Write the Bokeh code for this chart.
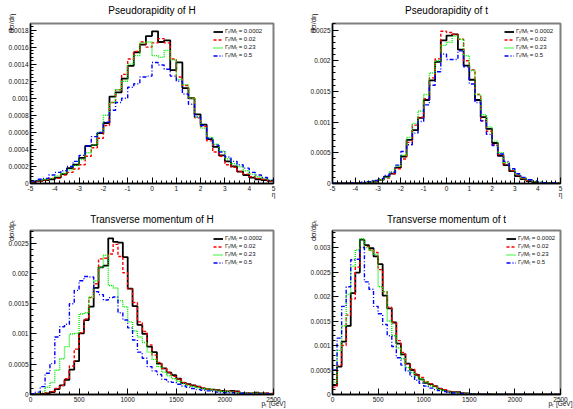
import numpy as np
from bokeh.plotting import figure
from bokeh.layouts import gridplot
from bokeh.models import (FixedTicker, CustomJSTickFormatter, Title, Legend,
                          LegendItem, Range1d)
from bokeh.embed import file_html
from bokeh.resources import INLINE

# ---------------- data (values in units of 1e-4) ----------------
SCALE = 1e-4
eta_edges = list(np.linspace(-5.0, 5.0, 41))      # 40 bins of 0.25
pt_edges = list(np.arange(0, 2501, 50))           # 50 bins of 50 GeV

width_labels = ["Γₜ/Mₜ = 0.0002", "Γₜ/Mₜ = 0.02", "Γₜ/Mₜ = 0.23", "Γₜ/Mₜ = 0.5"]

etaH_0002 = [0.2,0.3,0.4,0.5,0.7,1.1,1.8,2.2,3.0,4.4,4.5,5.9,7.1,10.2,10.7,12.3,13.8,15.4,16.3,17.3,
             17.85,16.6,16.8,13.3,14.2,11.2,10.0,8.1,6.9,5.2,4.3,3.3,2.6,2.0,1.4,1.0,0.7,0.5,0.4,0.3]
etaH_002 = [0.2,0.3,0.4,0.6,0.6,1.0,1.3,1.7,2.2,3.2,4.2,5.3,6.8,9.5,11.0,12.8,14.6,15.5,16.6,16.0,
            16.5,17.0,16.5,14.6,12.5,11.5,10.0,7.7,6.7,5.0,3.7,3.2,2.2,1.9,1.4,1.1,0.8,0.6,0.5,0.3]
etaH_023 = [0.3,0.4,0.5,0.6,0.9,1.2,1.6,2.1,2.8,3.6,4.5,6.0,8.0,9.5,11.0,12.0,14.0,15.0,16.5,16.6,
            15.0,14.8,15.6,14.5,12.2,11.6,10.0,7.8,6.5,5.4,4.6,3.8,2.9,2.3,2.0,1.5,1.1,0.8,0.6,0.4]
etaH_05 = [0.3,0.5,0.6,1.0,1.3,1.5,2.0,2.6,3.3,4.4,5.5,6.0,7.2,8.6,9.5,10.0,11.3,11.7,12.5,12.6,
           14.2,13.9,13.4,12.6,12.0,10.5,9.3,7.8,6.8,5.3,4.5,3.7,3.1,2.6,2.2,1.8,1.3,1.0,0.7,0.4]

etaT_0002 = [0.02,0.02,0.03,0.04,0.06,0.1,0.15,0.3,0.6,1.1,1.6,2.6,4.4,7.1,8.7,10.7,13.6,16.8,19.8,23.3,
             24.1,24.3,21.8,19.2,16.9,13.6,10.8,8.9,6.6,4.5,3.0,2.0,1.2,0.7,0.4,0.2,0.1,0.06,0.04,0.02]
etaT_002 = [0.02,0.03,0.04,0.05,0.08,0.12,0.2,0.4,0.6,0.9,1.6,2.4,4.0,6.7,9.5,10.8,13.8,17.2,20.3,24.8,
            24.6,24.3,23.5,20.0,18.5,14.5,10.2,8.5,6.3,4.7,3.2,2.1,1.4,0.8,0.5,0.3,0.15,0.08,0.05,0.03]
etaT_023 = [0.03,0.03,0.05,0.07,0.1,0.15,0.25,0.4,0.6,1.0,1.9,2.8,4.6,7.5,9.8,11.8,14.5,18.0,20.0,22.5,
            23.0,24.0,23.5,20.8,18.4,14.5,11.2,9.2,6.9,5.0,3.4,2.3,1.5,0.9,0.6,0.3,0.2,0.1,0.06,0.04]
etaT_05 = [0.03,0.04,0.05,0.08,0.12,0.2,0.3,0.5,0.8,1.3,1.8,3.0,5.2,6.3,8.2,10.1,12.8,16.0,18.2,21.1,
           20.2,20.2,21.6,19.0,16.2,13.2,10.2,8.0,6.2,4.8,3.6,2.4,1.6,1.0,0.6,0.4,0.2,0.12,0.07,0.04]

ptH_0002 = [0.0,0.05,0.1,0.2,0.4,0.9,1.5,2.4,4.1,5.5,10.1,12.3,14.5,17.6,21.0,21.3,25.8,25.2,25.1,22.7,
            17.5,14.6,11.5,10.0,7.9,7.0,5.1,4.3,3.6,3.2,2.6,1.9,1.7,1.5,1.3,1.0,0.9,0.8,0.7,0.6,
            0.5,0.6,0.5,0.2,0.2,0.2,0.3,0.2,0.2,0.1]
ptH_002 = [0.0,0.05,0.1,0.3,0.5,1.0,1.5,2.6,4.7,7.5,10.2,12.5,16.0,18.3,22.4,22.5,23.2,24.8,22.8,20.1,
           17.4,15.2,12.0,10.4,8.2,6.5,5.3,4.3,3.7,3.0,2.6,2.0,1.7,1.5,1.3,1.1,0.9,0.8,0.7,0.6,
           0.6,0.5,0.5,0.3,0.3,0.2,0.2,0.2,0.2,0.2]
ptH_023 = [0.0,0.1,0.4,1.2,2.0,4.0,5.9,7.9,10.0,10.1,13.3,13.5,16.1,18.8,21.0,23.0,18.0,17.6,15.5,14.5,
           12.0,10.5,9.5,8.6,7.0,5.8,4.6,3.7,3.1,2.6,2.2,1.8,1.5,1.3,1.1,1.0,0.9,0.7,0.6,0.5,
           0.5,0.4,0.3,0.3,0.2,0.2,0.2,0.2,0.1,0.1]
ptH_05 = [0.1,0.4,1.3,3.5,5.1,9.5,11.2,11.6,15.0,17.2,18.8,19.5,19.4,17.0,16.5,15.6,16.0,16.1,13.5,12.3,
          11.0,9.0,7.0,6.0,4.6,3.9,3.3,2.5,2.1,2.0,1.7,1.4,1.2,1.0,0.8,0.7,0.6,0.5,0.4,0.3,
          0.3,0.3,0.2,0.2,0.2,0.1,0.1,0.1,0.1,0.1]

ptT_0002 = [1.9,5.7,10.8,14.0,20.7,24.9,31.6,30.5,29.9,28.2,26.6,20.2,17.6,14.7,10.4,8.2,6.3,5.0,4.0,3.1,
            2.4,2.1,1.7,1.2,0.9,0.6,0.5,0.5,0.3,0.2,0.1,0.1,0.08,0.06,0.05,0.04,0.03,0.03,0.02,0.02,
            0.02,0.01,0.01,0.01,0.01,0.01,0.01,0.01,0.01,0.01]
ptT_002 = [1.5,6.0,10.0,16.2,19.5,26.0,30.0,30.2,29.5,29.0,25.5,21.0,17.8,14.8,11.0,8.6,6.2,5.2,4.2,3.5,
           2.6,2.2,1.8,1.2,1.0,0.6,0.5,0.4,0.3,0.2,0.15,0.1,0.08,0.06,0.05,0.04,0.03,0.03,0.02,0.02,
           0.02,0.01,0.01,0.01,0.01,0.01,0.01,0.01,0.01,0.01]
ptT_023 = [2.5,9.0,14.0,20.5,26.2,29.5,31.8,30.0,29.4,28.6,22.0,21.0,15.0,12.0,9.5,7.3,5.5,4.5,3.6,3.1,
           2.5,1.8,1.5,1.0,0.8,0.5,0.4,0.3,0.25,0.2,0.15,0.1,0.08,0.06,0.05,0.04,0.03,0.03,0.02,0.02,
           0.02,0.01,0.01,0.01,0.01,0.01,0.01,0.01,0.01,0.01]
ptT_05 = [5.0,11.5,18.0,22.0,27.5,27.6,30.0,23.0,21.5,18.0,16.5,14.3,12.0,9.8,7.5,6.0,4.8,3.7,2.9,2.3,
          1.7,1.3,1.0,0.8,0.6,0.4,0.3,0.25,0.2,0.15,0.1,0.08,0.06,0.05,0.04,0.03,0.03,0.02,0.02,0.02,
          0.01,0.01,0.01,0.01,0.01,0.01,0.01,0.01,0.01,0.01]

# ---------------- styling ----------------
FONT = "Liberation Sans"
STYLES = [dict(color="#000000", dash="solid", width=1.8),
          dict(color="#ff0000", dash="3 2", width=1.4),
          dict(color="#00ee00", dash="1 1", width=1.4),
          dict(color="#0000ff", dash="4 2 1 2", width=1.4)]


def axis_title(p, ax, text, standoff, side):
    ax.axis_label = text
    ax.axis_label_standoff = standoff
    ax.axis_label_text_font = FONT
    ax.axis_label_text_font_size = "7.5px" if side == "left" else "6.5px"
    ax.axis_label_text_font_style = "normal"
    ax.axis_label_text_color = "#111111"
    for al in ("end", "right"):
        try:
            ax.axis_label_align = al
            return
        except Exception:
            continue
    # fallback: a title in the side panel
    ax.axis_label = None
    p.add_layout(Title(text=text, align="right", text_font=FONT,
                       text_font_size=ax.axis_label_text_font_size,
                       text_font_style="normal", text_color="#111111",
                       standoff=standoff), side)


def panel(title, edges, series, x_end, x_major, x_minor, y_top, y_major, y_minor,
          ylabel, xlabel, width, height, mb, label_width, y_so, x_so, title_gap):
    left, right, top, bottom = mb
    p = figure(width=width, height=height, output_backend="svg", toolbar_location=None,
               x_range=Range1d(edges[0], x_end), y_range=Range1d(0, y_top), title=None,
               min_border_left=left, min_border_right=right,
               min_border_top=top, min_border_bottom=bottom)
    # spacer between frame and title, then the title itself
    p.add_layout(Title(text=" ", text_font_size="1px", standoff=title_gap), "above")
    p.add_layout(Title(text=title, align="center", text_font=FONT, text_font_size="10px",
                       text_font_style="normal", text_color="black", standoff=0), "above")
    p.background_fill_color = "white"
    p.border_fill_color = "white"
    p.outline_line_color = "#7f7f7f"
    p.outline_line_width = 2
    p.xgrid.visible = False
    p.ygrid.visible = False

    renderers = []
    for vals, st in zip(series, STYLES):
        ys = [v * SCALE for v in vals] + [vals[-1] * SCALE]
        r = p.step(x=edges, y=ys, mode="after", line_color=st["color"],
                   line_dash=st["dash"], line_width=st["width"])
        renderers.append(r)

    p.xaxis.ticker = FixedTicker(ticks=x_major, minor_ticks=x_minor)
    p.yaxis.ticker = FixedTicker(ticks=y_major, minor_ticks=y_minor)
    p.xaxis.formatter = CustomJSTickFormatter(code="return String(Math.round(tick*1000)/1000);")
    p.yaxis.formatter = CustomJSTickFormatter(code="return String(Math.round(tick*1e6)/1e6);")
    for ax in (p.xaxis[0], p.yaxis[0]):
        ax.axis_line_color = "black"
        ax.axis_line_width = 1.3
        ax.major_tick_line_color = "black"
        ax.minor_tick_line_color = "black"
        ax.major_tick_in = 6
        ax.major_tick_out = 0
        ax.minor_tick_in = 3
        ax.minor_tick_out = 0
        ax.major_label_text_font = FONT
        ax.major_label_text_font_size = "6.5px"
        ax.major_label_text_color = "#111111"
        ax.major_label_standoff = 2
    axis_title(p, p.yaxis[0], ylabel, y_so, "left")
    axis_title(p, p.xaxis[0], xlabel, x_so, "below")

    legend = Legend(items=[LegendItem(label=lab, renderers=[r])
                           for lab, r in zip(width_labels, renderers)],
                    location="top_right", margin=2, padding=2, spacing=0,
                    glyph_width=10, glyph_height=7, label_height=7,
                    label_width=label_width, label_standoff=2,
                    label_text_font=FONT, label_text_font_size="6px",
                    label_text_color="#111111",
                    border_line_alpha=0, background_fill_alpha=0)
    p.add_layout(legend)
    return p


eta_major = list(range(-5, 6))
eta_minor = [round(-5 + 0.2 * i, 2) for i in range(51)]
pt_major = list(range(0, 2501, 500))
pt_minor = list(range(0, 2501, 100))


def yt(top, step, minor_step):
    n = int(top / step + 1e-9)
    m = int(top / minor_step + 1e-9)
    return ([round(i * step, 6) for i in range(n + 1)],
            [round(i * minor_step, 6) for i in range(m + 1)])


y1 = yt(0.001877, 0.0002, 0.00004)
y2 = yt(0.002606, 0.0005, 0.0001)
y3 = yt(0.002709, 0.0005, 0.0001)
y4 = yt(0.003348, 0.0005, 0.0001)

p1 = panel("Pseudorapidity of H", eta_edges, [etaH_0002, etaH_002, etaH_023, etaH_05],
           5.0, eta_major, eta_minor, 0.001877, y1[0], y1[1], "dσ/dη", "η",
           290, 200, (30, 17, 23, 14), 44, -10, -3, 5)
p2 = panel("Pseudorapidity of t", eta_edges, [etaT_0002, etaT_002, etaT_023, etaT_05],
           5.0, eta_major, eta_minor, 0.002606, y2[0], y2[1], "dσ/dη", "η",
           283, 200, (42, 9, 23, 14), 40, -10, -3, 5)
p3 = panel("Transverse momentum of H", pt_edges, [ptH_0002, ptH_002, ptH_023, ptH_05],
           2500, pt_major, pt_minor, 0.002709, y3[0], y3[1], "dσ/dpₜ", "pₜ [GeV]",
           290, 209, (30, 17, 30, 15), 44, -10, -5, 3)
p4 = panel("Transverse momentum of t", pt_edges, [ptT_0002, ptT_002, ptT_023, ptT_05],
           2500, pt_major, pt_minor, 0.003348, y4[0], y4[1], "dσ/dpₜ", "pₜ [GeV]",
           283, 209, (42, 13, 30, 15), 38, -10, -5, 3)

grid = gridplot([[p1, p2], [p3, p4]], toolbar_location=None)

open("out.html", "w").write(file_html(grid, INLINE))
